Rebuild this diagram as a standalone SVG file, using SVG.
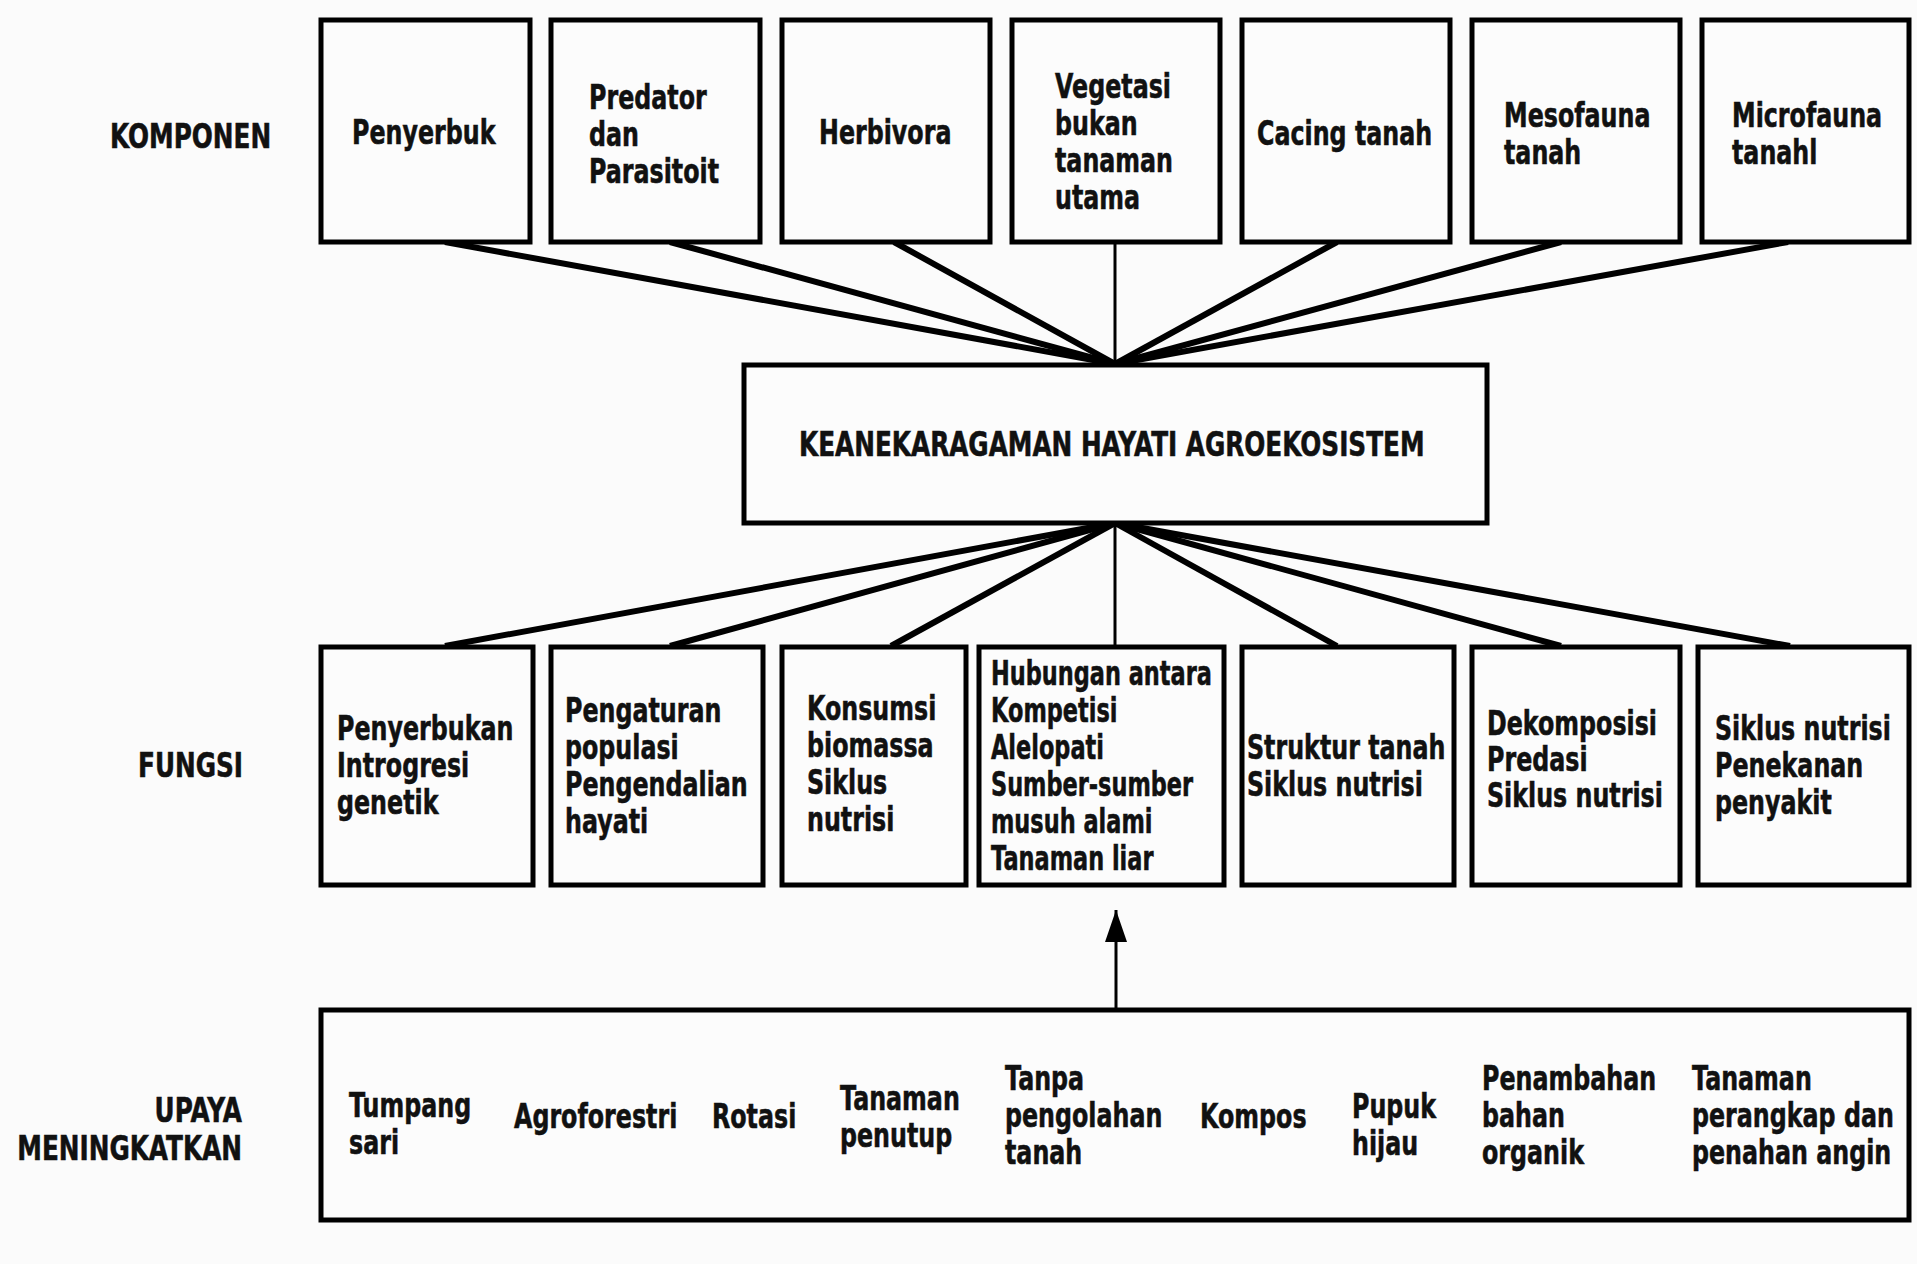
<svg xmlns="http://www.w3.org/2000/svg" width="1917" height="1264" viewBox="0 0 1917 1264">
<defs>
<style>
.box{fill:#fcfcfc;stroke:#000;stroke-width:5}
.t{font-family:"DejaVu Sans","Liberation Sans",sans-serif;font-weight:bold;font-size:33px;fill:#111;stroke:#111;stroke-width:0.6}
.c{stroke:#000;stroke-width:6;fill:none}
.v{stroke:#000;stroke-width:3;fill:none}
</style>
<marker id="arr" viewBox="0 0 32 22" refX="32" refY="11" markerWidth="32" markerHeight="22" markerUnits="userSpaceOnUse" orient="auto">
<path d="M0,0 L32,11 L0,22 z" fill="#000"/>
</marker>
</defs>
<rect x="0" y="0" width="1917" height="1264" fill="#fbfbfb"/>

<g id="labels">
<text class="t" transform="translate(110,148) scale(0.75 1)">KOMPONEN</text>
<text class="t" transform="translate(138,777) scale(0.75 1)">FUNGSI</text>
<text class="t" text-anchor="end" transform="translate(242,1122) scale(0.75 1)"><tspan x="0">UPAYA</tspan><tspan x="0" dy="38">MENINGKATKAN</tspan></text>
</g>

<g id="connectors">
<line class="c" x1="445" y1="242" x2="1115" y2="364"/>
<line class="c" x1="670" y1="242" x2="1115" y2="364"/>
<line class="c" x1="894" y1="242" x2="1115" y2="364"/>
<line class="v" x1="1115" y1="242" x2="1115" y2="364"/>
<line class="c" x1="1337" y1="242" x2="1115" y2="364"/>
<line class="c" x1="1561" y1="242" x2="1115" y2="364"/>
<line class="c" x1="1788" y1="242" x2="1115" y2="364"/>
<line class="c" x1="1115" y1="523" x2="445" y2="646"/>
<line class="c" x1="1115" y1="523" x2="670" y2="646"/>
<line class="c" x1="1115" y1="523" x2="891" y2="646"/>
<line class="v" x1="1115" y1="523" x2="1115" y2="646"/>
<line class="c" x1="1115" y1="523" x2="1337" y2="646"/>
<line class="c" x1="1115" y1="523" x2="1561" y2="646"/>
<line class="c" x1="1115" y1="523" x2="1790" y2="646"/>
<line class="v" x1="1116" y1="1008" x2="1116" y2="910" marker-end="url(#arr)"/>
</g>

<g id="k1"><rect class="box" x="321" y="20" width="209" height="222"/>
<text class="t" transform="translate(352,144) scale(0.72 1)">Penyerbuk</text></g>
<g id="k2"><rect class="box" x="551" y="20" width="209" height="222"/>
<text class="t" transform="translate(589,109) scale(0.72 1)"><tspan x="0">Predator</tspan><tspan x="0" dy="37">dan</tspan><tspan x="0" dy="37">Parasitoit</tspan></text></g>
<g id="k3"><rect class="box" x="782" y="20" width="208" height="222"/>
<text class="t" transform="translate(819,144) scale(0.72 1)">Herbivora</text></g>
<g id="k4"><rect class="box" x="1012" y="20" width="208" height="222"/>
<text class="t" transform="translate(1055,98) scale(0.72 1)"><tspan x="0">Vegetasi</tspan><tspan x="0" dy="37">bukan</tspan><tspan x="0" dy="37">tanaman</tspan><tspan x="0" dy="37">utama</tspan></text></g>
<g id="k5"><rect class="box" x="1242" y="20" width="208" height="222"/>
<text class="t" transform="translate(1257,145) scale(0.72 1)">Cacing tanah</text></g>
<g id="k6"><rect class="box" x="1472" y="20" width="208" height="222"/>
<text class="t" transform="translate(1504,127) scale(0.72 1)"><tspan x="0">Mesofauna</tspan><tspan x="0" dy="37">tanah</tspan></text></g>
<g id="k7"><rect class="box" x="1702" y="20" width="207" height="222"/>
<text class="t" transform="translate(1732,127) scale(0.72 1)"><tspan x="0">Microfauna</tspan><tspan x="0" dy="37">tanahl</tspan></text></g>

<g id="center"><rect class="box" x="744" y="365" width="743" height="158"/>
<text class="t" transform="translate(799,456) scale(0.75 1)">KEANEKARAGAMAN HAYATI AGROEKOSISTEM</text></g>

<g id="f1"><rect class="box" x="321" y="647" width="212" height="238"/>
<text class="t" transform="translate(337,740) scale(0.72 1)"><tspan x="0">Penyerbukan</tspan><tspan x="0" dy="37">Introgresi</tspan><tspan x="0" dy="37">genetik</tspan></text></g>
<g id="f2"><rect class="box" x="551" y="647" width="212" height="238"/>
<text class="t" transform="translate(565,722) scale(0.72 1)"><tspan x="0">Pengaturan</tspan><tspan x="0" dy="37">populasi</tspan><tspan x="0" dy="37">Pengendalian</tspan><tspan x="0" dy="37">hayati</tspan></text></g>
<g id="f3"><rect class="box" x="782" y="647" width="184" height="238"/>
<text class="t" transform="translate(807,720) scale(0.72 1)"><tspan x="0">Konsumsi</tspan><tspan x="0" dy="37">biomassa</tspan><tspan x="0" dy="37">Siklus</tspan><tspan x="0" dy="37">nutrisi</tspan></text></g>
<g id="f4"><rect class="box" x="979" y="647" width="245" height="238"/>
<text class="t" transform="translate(991,685) scale(0.68 1)"><tspan x="0">Hubungan antara</tspan><tspan x="0" dy="37">Kompetisi</tspan><tspan x="0" dy="37">Alelopati</tspan><tspan x="0" dy="37">Sumber-sumber</tspan><tspan x="0" dy="37">musuh alami</tspan><tspan x="0" dy="37">Tanaman liar</tspan></text></g>
<g id="f5"><rect class="box" x="1242" y="647" width="212" height="238"/>
<text class="t" transform="translate(1247,759) scale(0.72 1)"><tspan x="0">Struktur tanah</tspan><tspan x="0" dy="37">Siklus nutrisi</tspan></text></g>
<g id="f6"><rect class="box" x="1472" y="647" width="208" height="238"/>
<text class="t" transform="translate(1487,735) scale(0.72 1)"><tspan x="0">Dekomposisi</tspan><tspan x="0" dy="36">Predasi</tspan><tspan x="0" dy="36">Siklus nutrisi</tspan></text></g>
<g id="f7"><rect class="box" x="1698" y="647" width="211" height="238"/>
<text class="t" transform="translate(1715,740) scale(0.72 1)"><tspan x="0">Siklus nutrisi</tspan><tspan x="0" dy="37">Penekanan</tspan><tspan x="0" dy="37">penyakit</tspan></text></g>

<g id="upaya"><rect class="box" x="321" y="1010" width="1588" height="210"/>
<text class="t" transform="translate(349,1117) scale(0.72 1)"><tspan x="0">Tumpang</tspan><tspan x="0" dy="37">sari</tspan></text>
<text class="t" transform="translate(514,1128) scale(0.72 1)">Agroforestri</text>
<text class="t" transform="translate(712,1128) scale(0.72 1)">Rotasi</text>
<text class="t" transform="translate(840,1110) scale(0.72 1)"><tspan x="0">Tanaman</tspan><tspan x="0" dy="37">penutup</tspan></text>
<text class="t" transform="translate(1005,1090) scale(0.72 1)"><tspan x="0">Tanpa</tspan><tspan x="0" dy="37">pengolahan</tspan><tspan x="0" dy="37">tanah</tspan></text>
<text class="t" transform="translate(1200,1128) scale(0.72 1)">Kompos</text>
<text class="t" transform="translate(1352,1118) scale(0.72 1)"><tspan x="0">Pupuk</tspan><tspan x="0" dy="37">hijau</tspan></text>
<text class="t" transform="translate(1482,1090) scale(0.72 1)"><tspan x="0">Penambahan</tspan><tspan x="0" dy="37">bahan</tspan><tspan x="0" dy="37">organik</tspan></text>
<text class="t" transform="translate(1692,1090) scale(0.72 1)"><tspan x="0">Tanaman</tspan><tspan x="0" dy="37">perangkap dan</tspan><tspan x="0" dy="37">penahan angin</tspan></text>
</g>
</svg>
